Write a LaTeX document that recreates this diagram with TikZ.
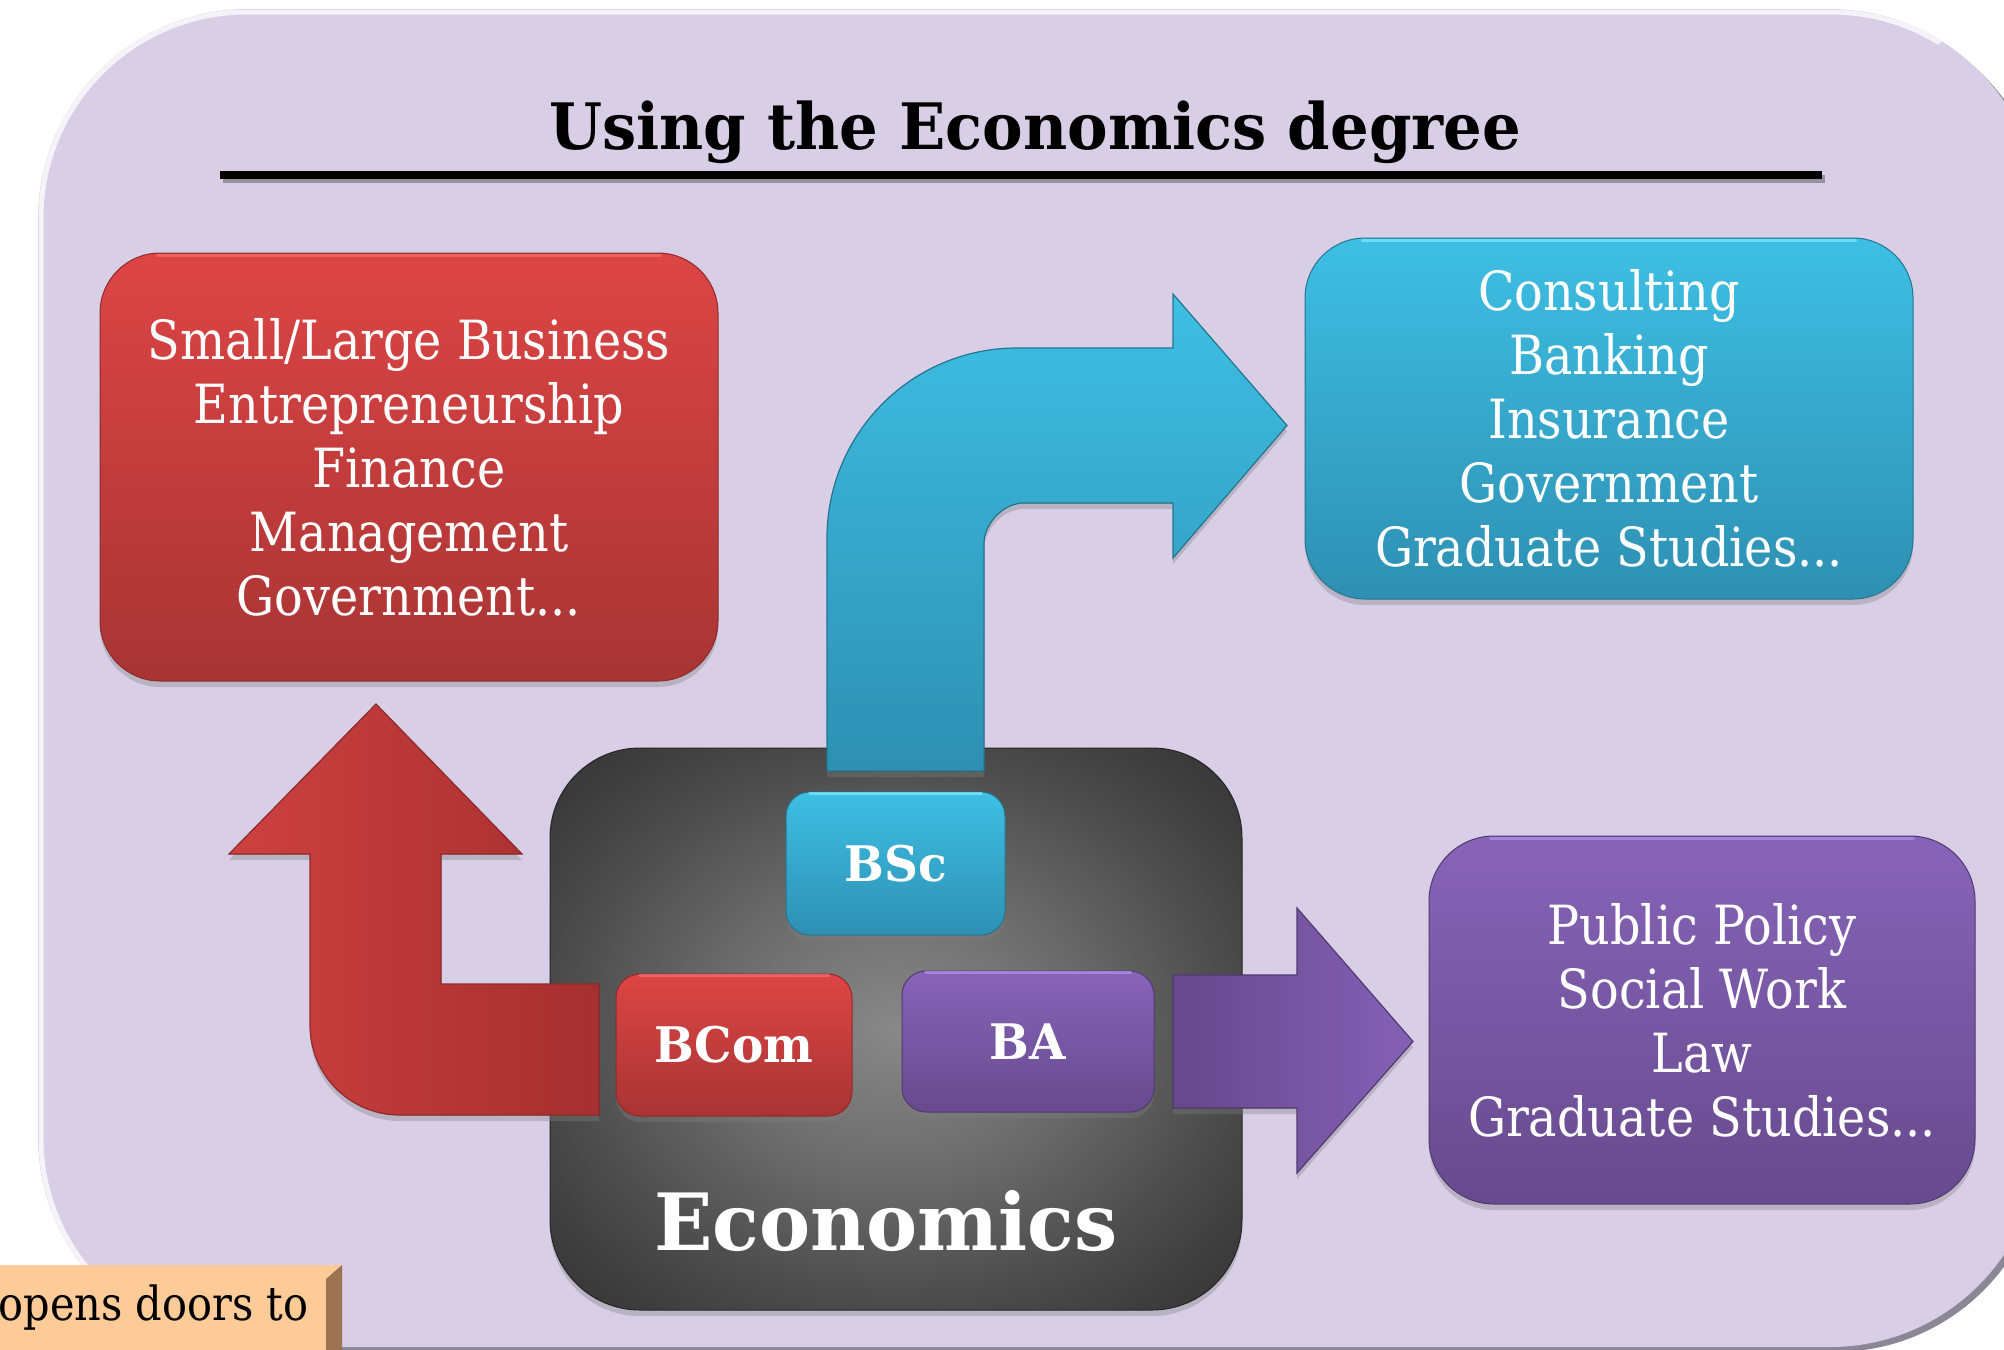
\documentclass[tikz,border=0pt]{standalone}
\usepackage{fontspec}
\setmainfont{DejaVu Serif}
\newfontfamily\bodyfont[FakeStretch=0.883]{DejaVu Serif}
\newfontfamily\titlefont[FakeStretch=0.95]{DejaVu Serif}
\newfontfamily\econfont[FakeStretch=0.97]{DejaVu Serif}
\newfontfamily\labelfont[FakeStretch=0.96]{DejaVu Serif}
\usetikzlibrary{shadows}

\definecolor{bglav}{HTML}{D8CEE6}
\definecolor{bgrim}{HTML}{8C8796}
\definecolor{redT}{HTML}{DD4545}
\definecolor{redB}{HTML}{A83434}
\definecolor{redD}{HTML}{8E2B2B}
\definecolor{redH}{HTML}{F26868}
\definecolor{redAL}{HTML}{CE4040}
\definecolor{redAR}{HTML}{A52F2F}
\definecolor{cyanT}{HTML}{3EBFE4}
\definecolor{cyanB}{HTML}{2E90B2}
\definecolor{cyanD}{HTML}{25758F}
\definecolor{cyanH}{HTML}{74E6FA}
\definecolor{purT}{HTML}{8764B8}
\definecolor{purB}{HTML}{674A8E}
\definecolor{purD}{HTML}{503A70}
\definecolor{purH}{HTML}{B08DE6}
\definecolor{purAL}{HTML}{66488C}
\definecolor{purAR}{HTML}{8461B6}
\definecolor{econC}{HTML}{888888}
\definecolor{econM}{HTML}{6E6E6E}
\definecolor{econN}{HTML}{4A4A4A}
\definecolor{econE}{HTML}{333333}
\definecolor{econF}{HTML}{202020}
\definecolor{tagF}{HTML}{FDCB98}
\definecolor{tagB}{HTML}{9C7452}

\pgfdeclareradialshading{econshade}{\pgfpointorigin}{color(0bp)=(econC); color(12bp)=(econM); color(25bp)=(econN); color(35bp)=(econE); color(50bp)=(econF)}

\tikzset{
  softshadow/.style={drop shadow={shadow xshift=0pt, shadow yshift=-6pt, opacity=0.35}},
  bigbox/.style={rounded corners=60pt, line width=1pt, softshadow, text=white,
    align=center, inner sep=0pt, font=\bodyfont\fontsize{54}{64}\selectfont},
  smallbox/.style={rounded corners=24pt, line width=1pt, softshadow, text=white,
    align=center, inner sep=0pt, font=\labelfont\bfseries\fontsize{49}{55}\selectfont},
  redfill/.style={top color=redT, bottom color=redB, draw=redD},
  cyanfill/.style={top color=cyanT, bottom color=cyanB, draw=cyanD},
  purfill/.style={top color=purT, bottom color=purB, draw=purD},
  blockarrow/.style={line width=1.2pt, softshadow},
  hilite/.style={line width=3pt, line cap=round, opacity=0.8},
}

\begin{document}
\begin{tikzpicture}[x=1pt,y=-1pt]
\useasboundingbox (0,0) rectangle (2004,1349);
\clip (0,0) rectangle (2004,1349);

% background panel
\fill[bgrim, rounded corners=210pt] (43,14) rectangle (2045,1352);
\fill[bglav, rounded corners=210pt] (38,9) rectangle (2040,1347);
\begin{scope}
  \clip (0,0) -- (2004,0) -- (0,1349) -- cycle;
  \draw[white, line width=5pt, opacity=0.75, rounded corners=206pt] (41,12) rectangle (2037,1344);
\end{scope}

% title
\node[anchor=base, font=\titlefont\bfseries\fontsize{64}{70}\selectfont] (title) at (1035,149) {Using the Economics degree};
\coordinate (ulA) at (220,175);
\coordinate (ulB) at (1822,175);
\draw[line width=8pt, black, opacity=0.3] ([shift={(3,4)}]ulA) -- ([shift={(3,4)}]ulB);
\draw[line width=8pt, black] (ulA) -- (ulB);

% outcome boxes
\node[bigbox, redfill, minimum width=618pt, minimum height=428pt] (business) at (409,467)
  {Small/Large Business\\Entrepreneurship\\Finance\\Management\\Government...};
\node[bigbox, cyanfill, minimum width=608pt, minimum height=361pt] (consult) at (1609,418.5)
  {Consulting\\Banking\\Insurance\\Government\\Graduate Studies...};
\node[bigbox, purfill, rounded corners=65pt, minimum width=546pt, minimum height=368pt] (policy) at (1702,1020)
  {Public Policy\\Social Work\\Law\\Graduate Studies...};
\draw[hilite, redH] ([xshift=58pt, yshift=-3pt]business.north west) -- ([xshift=-58pt, yshift=-3pt]business.north east);
\draw[hilite, cyanH] ([xshift=58pt, yshift=-3pt]consult.north west) -- ([xshift=-58pt, yshift=-3pt]consult.north east);
\draw[hilite, purH] ([xshift=62pt, yshift=-3pt]policy.north west) -- ([xshift=-62pt, yshift=-3pt]policy.north east);

% economics panel
\node[rounded corners=90pt, shading=econshade, draw=black!85, line width=1pt,
  softshadow, minimum width=692pt, minimum height=562pt, inner sep=0pt] (econ) at (896,1029) {};

% block arrows
\fill[blockarrow, left color=redAL, right color=redAR, draw=redD]
  (599,984) -- (441,984) -- (441,854) -- (522,854) -- (376,704) -- (229,854) -- (310,854)
  -- (310,1025) .. controls (310,1075) and (350,1115) .. (400,1115) -- (599,1115) -- cycle;
\fill[blockarrow, top color=cyanT, bottom color=cyanB, draw=cyanD]
  (827,771) -- (827,538) .. controls (827,433) and (912,348) .. (1017,348) -- (1173,348)
  -- (1173,294) -- (1287,425.5) -- (1173,558) -- (1173,503) -- (1024,503)
  .. controls (1002,503) and (984,525) .. (984,543) -- (984,771) -- cycle;
\fill[blockarrow, left color=purAL, right color=purAR, draw=purD]
  (1173,975) -- (1297,975) -- (1297,908) -- (1413,1041.5) -- (1297,1173) -- (1297,1108)
  -- (1173,1108) -- cycle;

% degree boxes
\node[smallbox, cyanfill, minimum width=219pt, minimum height=143pt] (bsc) at (895.5,863.5) {BSc};
\node[smallbox, redfill, minimum width=236pt, minimum height=142pt] (bcom) at (734,1045) {BCom};
\node[smallbox, purfill, minimum width=252pt, minimum height=141pt] (ba) at (1028,1041.5) {BA};
\draw[hilite, cyanH] ([xshift=24pt, yshift=-2pt]bsc.north west) -- ([xshift=-24pt, yshift=-2pt]bsc.north east);
\draw[hilite, redH] ([xshift=24pt, yshift=-2pt]bcom.north west) -- ([xshift=-24pt, yshift=-2pt]bcom.north east);
\draw[hilite, purH] ([xshift=24pt, yshift=-2pt]ba.north west) -- ([xshift=-24pt, yshift=-2pt]ba.north east);

\node[anchor=base, text=white, font=\econfont\bfseries\fontsize{79}{85}\selectfont] (econlabel) at (886,1250) {Economics};

% tag at bottom left
\fill[tagF] (-20,1265) rectangle (342,1360);
\fill[tagB] (326,1279) -- (342,1265) -- (342,1360) -- (326,1360) -- cycle;
\node[anchor=base east, font=\bodyfont\fontsize{47}{53}\selectfont] (tag) at (312,1320) {opens doors to};
\end{tikzpicture}
\end{document}
